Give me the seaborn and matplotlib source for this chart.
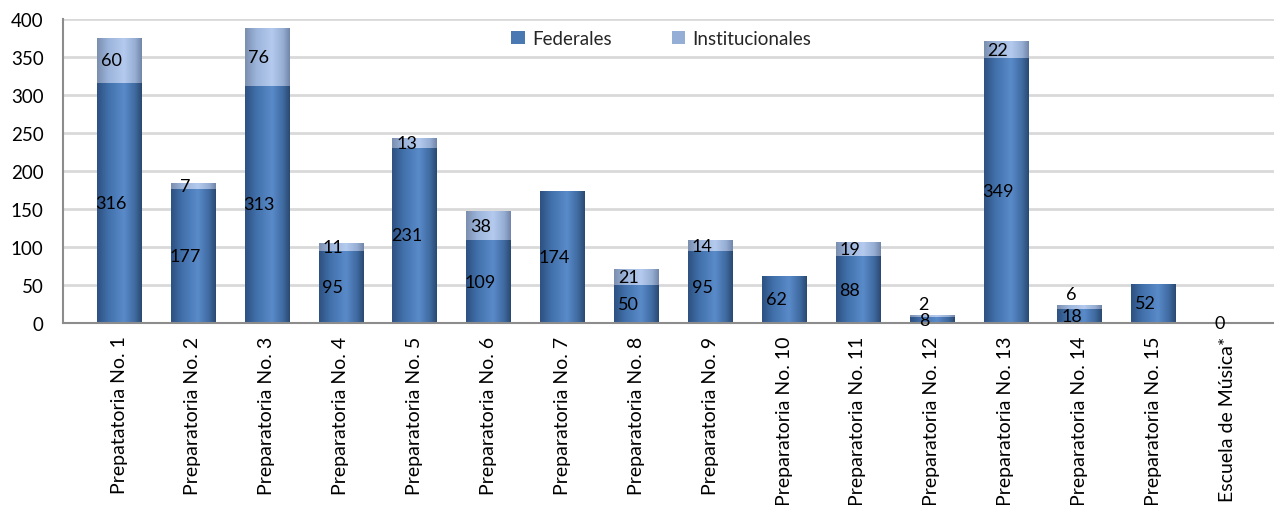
import numpy as np
import matplotlib
matplotlib.use("Agg")
import matplotlib.pyplot as plt
import matplotlib.transforms as mtransforms
from matplotlib.colors import LinearSegmentedColormap
from matplotlib.patches import Patch
import seaborn as sns

# Enrolment per school, split by funding source
categories = [
    "Prepatatoria No. 1", "Preparatoria No. 2", "Preparatoria No. 3", "Preparatoria No. 4",
    "Preparatoria No. 5", "Preparatoria No. 6", "Preparatoria No. 7", "Preparatoria No. 8",
    "Preparatoria No. 9", "Preparatoria No. 10", "Preparatoria No. 11", "Preparatoria No. 12",
    "Preparatoria No. 13", "Preparatoria No. 14", "Preparatoria No. 15", "Escuela de Música*",
]
federales = [316, 177, 313, 95, 231, 109, 174, 50, 95, 62, 88, 8, 349, 18, 52, 0]
institucionales = [60, 7, 76, 11, 13, 38, np.nan, 21, 14, np.nan, 19, 2, 22, 6, np.nan, np.nan]
y_ticks = [0, 50, 100, 150, 200, 250, 300, 350, 400]

fed = np.array(federales, dtype=float)
inst = np.array(institucionales, dtype=float)
total = fed + np.nan_to_num(inst)

sns.set_theme(style="white")
plt.rcParams["font.family"] = ["Lato", "DejaVu Sans"]

FED_COLOR = "#4A78B0"
INST_COLOR = "#95AED6"

fig = plt.figure(figsize=(12.74, 5.06), dpi=100)
ax = fig.add_axes([0.0495, 0.3597, 0.9505, 0.5998])

# Stacked bars: full totals first, federal share drawn over the lower part
sns.barplot(x=categories, y=total, color=INST_COLOR, width=0.6, saturation=1,
            ax=ax, zorder=2, edgecolor="none")
sns.barplot(x=categories, y=fed, color=FED_COLOR, width=0.6, saturation=1,
            ax=ax, zorder=2, edgecolor="none")

# Cylinder-like horizontal shading on each bar
fed_cmap = LinearSegmentedColormap.from_list(
    "fed", [(0.0, "#2D5080"), (0.25, "#4170AA"), (0.6, "#5A8BCA"), (0.85, "#3F6AA0"), (1.0, "#2A4870")])
inst_cmap = LinearSegmentedColormap.from_list(
    "inst", [(0.0, "#7A8EAE"), (0.25, "#9CB4DA"), (0.6, "#B4CAEE"), (0.85, "#97AED4"), (1.0, "#7085A6")])
grad = np.linspace(0, 1, 256).reshape(1, -1)
n = len(categories)
for i, p in enumerate(list(ax.patches)):
    h = p.get_height()
    if not np.isfinite(h) or h <= 0:
        continue
    cmap = inst_cmap if i < n else fed_cmap
    x0, y0, w = p.get_x(), p.get_y(), p.get_width()
    im = ax.imshow(grad, cmap=cmap, aspect="auto", extent=(x0, x0 + w, y0, y0 + h),
                   zorder=2.5, interpolation="bilinear")
    im.set_clip_path(p)

# Value labels centred in each segment; small top segments get lifted clear
lbl_off = mtransforms.ScaledTranslation(-8 / 100, 0, fig.dpi_scale_trans)
for i in range(n):
    fy = fed[i] / 2
    ax.text(i, fy, f"{int(fed[i])}", ha="center", va="center", fontsize=13,
            color="black", zorder=4, transform=ax.transData + lbl_off)
    if np.isfinite(inst[i]):
        iy = fed[i] + inst[i] / 2
        va = "center"
        if iy - fy < 18:
            iy = fed[i] + inst[i] + 4
            va = "bottom"
        ax.text(i, iy, f"{int(inst[i])}", ha="center", va=va, fontsize=13,
                color="black", zorder=4, transform=ax.transData + lbl_off)

ax.set_xlim(-0.758, 15.63)
ax.set_ylim(0, 400)
ax.set_yticks(y_ticks)
ax.set_yticklabels([str(t) for t in y_ticks], fontsize=13.5)
ax.set_xticks(range(n))
ax.set_xticklabels(categories, rotation=90, fontsize=14)
tick_off = mtransforms.ScaledTranslation(-17 / 100, 0, fig.dpi_scale_trans)
for lab in ax.get_xticklabels():
    lab.set_transform(lab.get_transform() + tick_off)
ax.tick_params(axis="y", length=0, pad=14, colors="black")
ax.tick_params(axis="x", length=0, pad=9, colors="black")

ax.yaxis.grid(True, color="#D9D9D9", linewidth=2, zorder=0)
ax.set_axisbelow(True)
for side in ("top", "right"):
    ax.spines[side].set_visible(False)
for side in ("left", "bottom"):
    ax.spines[side].set_color("#8C8C8C")
    ax.spines[side].set_linewidth(1.5)
    ax.spines[side].set_zorder(3)
ax.set_xlabel("")
ax.set_ylabel("")

handles = [Patch(facecolor=FED_COLOR, edgecolor="none", label="Federales"),
           Patch(facecolor=INST_COLOR, edgecolor="none", label="Institucionales")]
ax.legend(handles=handles, loc="center", bbox_to_anchor=(0.494, 0.936), ncol=2,
          frameon=False, fontsize=13.5, handlelength=0.7, handleheight=0.7,
          handletextpad=0.4, columnspacing=3.2)

fig.savefig("out.png", dpi=100)
